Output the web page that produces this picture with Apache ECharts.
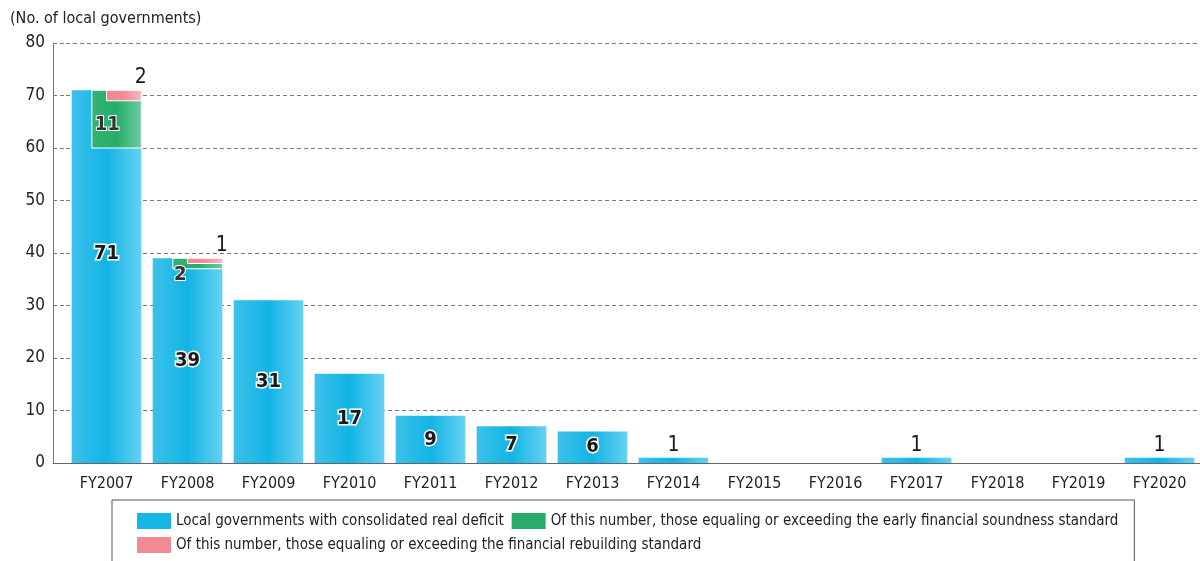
<!DOCTYPE html>
<html>
<head>
<meta charset="utf-8">
<script src="https://cdn.jsdelivr.net/npm/echarts@6/dist/echarts.min.js"></script>
<style>
  html, body { margin: 0; padding: 0; background: #fff; }
  #chart { width: 1200px; height: 561px; }
</style>
</head>
<body>
<div id="chart"></div>
<script>
const years = ['FY2007', 'FY2008', 'FY2009', 'FY2010', 'FY2011', 'FY2012', 'FY2013',
  'FY2014', 'FY2015', 'FY2016', 'FY2017', 'FY2018', 'FY2019', 'FY2020']
// local governments with consolidated real deficit
const deficit = [71, 39, 31, 17, 9, 7, 6, 1, 0, 0, 1, 0, 0, 1]
// of which: early financial soundness standard
const early = [11, 2, 0, 0, 0, 0, 0, 0, 0, 0, 0, 0, 0, 0]
// of which: financial rebuilding standard
const rebuild = [2, 1, 0, 0, 0, 0, 0, 0, 0, 0, 0, 0, 0, 0]

const FONT = '"Liberation Sans Narrow", "DejaVu Sans Condensed", sans-serif'
const BAR_W = 0.86

const grad = (c0, c1, c2) => new echarts.graphic.LinearGradient(0, 0, 1, 0, [
  { offset: 0, color: c0 }, { offset: 0.5, color: c1 }, { offset: 1, color: c2 }
])
const blueFill = grad('#3cc1ea', '#12b4e5', '#66d1f2')
const greenFill = grad('#34b274', '#27ad69', '#70cba2')
const pinkFill = grad('#ef8491', '#f28c98', '#f8b8c0')

const haloText = {
  fontFamily: FONT, fontSize: 20, fontWeight: 'bold', color: '#1a1a1a',
  textBorderColor: '#fff', textBorderWidth: 3
}

// overlay block drawn at the top right part of the main bar
const overlay = (frac, fill, kind) => (params, api) => {
  const i = api.value(0), top = api.value(1), n = api.value(2)
  if (!n) return
  const p1 = api.coord([i, top])
  const p0 = api.coord([i, top - n])
  const bw = api.size([1, 0])[0] * BAR_W
  const x = p1[0] - bw / 2 + bw * frac
  const w = p1[0] + bw / 2 - x
  const h = p0[1] - p1[1]
  let tc
  if (kind === 'green') {
    tc = h > 24 ? { position: [16, h / 2 + 6] } : { position: [8, h - 3] }
  } else {
    tc = { position: [w, -2] }
  }
  return {
    type: 'rect',
    shape: { x: x, y: p1[1], width: w, height: h },
    style: { fill: fill, stroke: '#fff', lineWidth: 1 },
    textContent: {
      style: kind === 'green'
        ? Object.assign({ text: String(n), align: 'center', verticalAlign: h > 24 ? 'middle' : 'top' }, haloText)
        : { text: String(n), fontFamily: FONT, fontSize: 21, fill: '#1a1a1a', align: 'center', verticalAlign: 'bottom' }
    },
    textConfig: tc
  }
}

const chart = echarts.init(document.getElementById('chart'))

const splitDash = { show: true, lineStyle: { color: '#7a7a7a', type: [4, 3], width: 1 } }

const option = {
  animation: false,
  textStyle: { fontFamily: FONT },
  title: {
    text: '(No. of local governments)',
    left: 5, top: 6,
    textStyle: { fontFamily: FONT, fontSize: 16, fontWeight: 'normal', color: '#222' }
  },
  grid: [
    { left: 66, width: 1138, top: 43, bottom: 98 },
    { left: 53, width: 13, top: 43, bottom: 98 }
  ],
  legend: {
    left: 112, top: 500, width: 1010,
    padding: [13, 16, 22, 25],
    borderColor: '#555', borderWidth: 1,
    itemWidth: 34, itemHeight: 16, itemGap: 8,
    icon: 'rect',
    textStyle: { fontFamily: FONT, fontSize: 15, color: '#222', padding: [0, 12, 0, 0] },
    data: [
      { name: 'Local governments with consolidated real deficit', itemStyle: { color: '#16b6e6' } },
      { name: 'Of this number, those equaling or exceeding the early financial soundness standard', itemStyle: { color: '#27ad69' } },
      { name: 'Of this number, those equaling or exceeding the financial rebuilding standard', itemStyle: { color: '#f28a96' } }
    ]
  },
  xAxis: [
    {
      type: 'category', gridIndex: 0, data: years,
      axisLine: { lineStyle: { color: '#666' } },
      axisTick: { inside: true, length: 6, lineStyle: { color: '#444' } },
      axisLabel: { fontFamily: FONT, fontSize: 16, color: '#222', margin: 13 }
    },
    {
      type: 'category', gridIndex: 1, data: [''],
      axisLine: { lineStyle: { color: '#666' } },
      axisTick: { show: false }, axisLabel: { show: false }
    }
  ],
  yAxis: [
    {
      type: 'value', gridIndex: 0, min: 0, max: 80, interval: 10,
      axisLine: { show: false }, axisTick: { show: false }, axisLabel: { show: false },
      splitLine: splitDash
    },
    {
      type: 'value', gridIndex: 1, min: 0, max: 80, interval: 10,
      axisLine: { show: true, lineStyle: { color: '#777' } }, axisTick: { show: false },
      axisLabel: { fontFamily: FONT, fontSize: 17, color: '#222', margin: 8 },
      splitLine: splitDash
    }
  ],
  series: [
    {
      name: 'Local governments with consolidated real deficit',
      type: 'bar', barWidth: (BAR_W * 100) + '%',
      itemStyle: { color: blueFill },
      data: deficit.map((v, i) => {
        if (v === 0) return { value: v, label: { show: false } }
        if (v < 3) {
          return { value: v, label: { position: 'top', distance: 2, textBorderWidth: 0, fontWeight: 'normal', fontSize: 21 } }
        }
        return i === 0 ? { value: v, label: { offset: [0, -23] } } : v
      }),
      label: Object.assign({ show: true, position: 'inside' }, haloText)
    },
    {
      name: 'Of this number, those equaling or exceeding the early financial soundness standard',
      type: 'custom',
      renderItem: overlay(0.29, greenFill, 'green'),
      encode: { x: 0, y: 1 },
      data: years.map((y, i) => [i, deficit[i], early[i]]),
      z: 3
    },
    {
      name: 'Of this number, those equaling or exceeding the financial rebuilding standard',
      type: 'custom',
      renderItem: overlay(0.5, pinkFill, 'pink'),
      encode: { x: 0, y: 1 },
      data: years.map((y, i) => [i, deficit[i], rebuild[i]]),
      z: 4
    }
  ]
}

chart.setOption(option)
</script>
</body>
</html>
